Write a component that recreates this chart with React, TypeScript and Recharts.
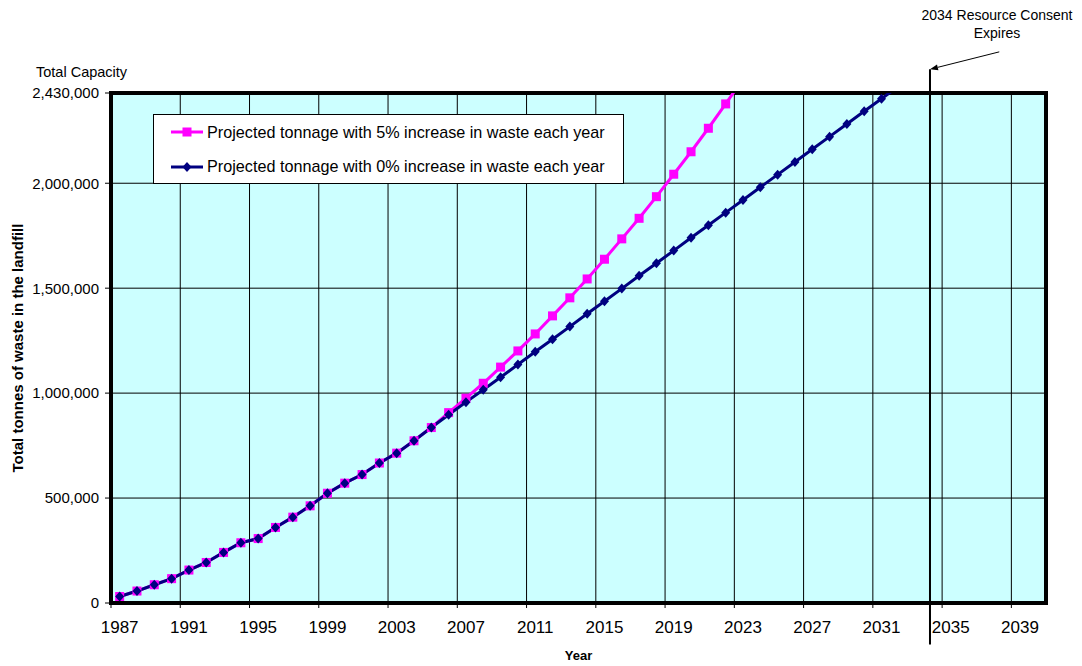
import React from "react";
import {
  LineChart,
  Line,
  XAxis,
  YAxis,
  CartesianGrid,
  Legend,
  ReferenceLine,
  ReferenceArea,
} from "recharts";

// years on the category axis
const YEARS = [
  1987, 1988, 1989, 1990, 1991, 1992, 1993, 1994, 1995, 1996, 1997, 1998,
  1999, 2000, 2001, 2002, 2003, 2004, 2005, 2006, 2007, 2008, 2009, 2010,
  2011, 2012, 2013, 2014, 2015, 2016, 2017, 2018, 2019, 2020, 2021, 2022,
  2023, 2024, 2025, 2026, 2027, 2028, 2029, 2030, 2031, 2032,
];

// cumulative tonnes, 5% growth in annual waste (1987-2023)
const GROWTH_5 = [
  31000, 57000, 87000, 116000, 157000, 193000, 241000, 287000, 307000,
  360000, 409000, 463000, 523000, 571000, 612000, 667000, 714000, 773000,
  836000, 907000, 976000, 1047000, 1124000, 1201000, 1282000, 1368000,
  1454000, 1544000, 1638000, 1735000, 1833000, 1936000, 2043000, 2150000,
  2262000, 2378000, 2497000,
];

// cumulative tonnes, no growth (1987-2032)
const GROWTH_0 = [
  31000, 57000, 87000, 116000, 157000, 193000, 241000, 287000, 307000,
  360000, 409000, 463000, 523000, 571000, 612000, 667000, 714000, 773000,
  836000, 897000, 957000, 1016000, 1076000, 1136000, 1197000, 1257000,
  1317000, 1378000, 1438000, 1498000, 1559000, 1619000, 1679000, 1740000,
  1800000, 1860000, 1920000, 1981000, 2041000, 2101000, 2162000, 2222000,
  2282000, 2343000, 2403000, 2463000,
];

const X_LABELS = [1987, 1991, 1995, 1999, 2003, 2007, 2011, 2015, 2019, 2023, 2027, 2031, 2035, 2039];
const X_BOUNDS = [1986.5, 1990.5, 1994.5, 1998.5, 2002.5, 2006.5, 2010.5, 2014.5, 2018.5, 2022.5, 2026.5, 2030.5, 2034.5, 2038.5];
const X_DOMAIN = [1986.5, 2040.5];
const CAPACITY = 2430000;
const Y_TICKS = [0, 500000, 1000000, 1500000, 2000000, CAPACITY];

// "2034 Resource Consent Expires" marker (data units)
const CONSENT_X = 2033.8;
const CONSENT_TOP = 2543000;
const CONSENT_BOTTOM = -198000;
const ARROW_TAIL = { x: 2037.8, y: 2626000 };

const SERIES = [
  { key: "g5", name: "Projected tonnage with 5% increase in waste each year", color: "#FF00FF", marker: "square" },
  { key: "g0", name: "Projected tonnage with 0% increase in waste each year", color: "#000080", marker: "diamond" },
];

const data = YEARS.map((year, i) => ({
  year,
  g5: i < GROWTH_5.length ? GROWTH_5[i] : null,
  g0: GROWTH_0[i],
}));

const FONT = "Arial, 'Liberation Sans', sans-serif";

function SquareDot(props: any) {
  const { cx, cy } = props;
  if (cx == null || cy == null) return <g />;
  return <rect x={cx - 4.5} y={cy - 4.5} width={9} height={9} fill="#FF00FF" />;
}

function DiamondDot(props: any) {
  const { cx, cy } = props;
  if (cx == null || cy == null) return <g />;
  return (
    <polygon
      points={`${cx},${cy - 5} ${cx + 4.5},${cy} ${cx},${cy + 5} ${cx - 4.5},${cy}`}
      fill="#000080"
    />
  );
}

function Arrow(props: any) {
  const { x1, y1, x2, y2 } = props;
  const dx = x2 - x1;
  const dy = y2 - y1;
  const len = Math.sqrt(dx * dx + dy * dy) || 1;
  const ux = dx / len;
  const uy = dy / len;
  const bx = x2 - ux * 8;
  const by = y2 - uy * 8;
  return (
    <g>
      <line x1={x1} y1={y1} x2={bx} y2={by} stroke="#000" strokeWidth={1} />
      <polygon
        points={`${x2},${y2} ${bx - uy * 3},${by + ux * 3} ${bx + uy * 3},${by - ux * 3}`}
        fill="#000"
      />
    </g>
  );
}

function LegendBox() {
  return (
    <div
      style={{
        background: "#fff",
        border: "1px solid #000",
        width: 469,
        height: 68,
        boxSizing: "content-box",
        fontFamily: FONT,
        fontSize: 16.2,
        color: "#000",
      }}
    >
      {SERIES.map((s) => (
        <div key={s.key} style={{ display: "flex", alignItems: "center", height: 34.5 }}>
          <svg width={34} height={12} style={{ marginLeft: 17, marginRight: 2 }}>
            <line x1={0} y1={6} x2={32} y2={6} stroke={s.color} strokeWidth={3} />
            {s.marker === "square" ? (
              <rect x={11.5} y={1.5} width={9} height={9} fill={s.color} />
            ) : (
              <polygon points="16,1 20.5,6 16,11 11.5,6" fill={s.color} />
            )}
          </svg>
          <span>{s.name}</span>
        </div>
      ))}
    </div>
  );
}

function BoundaryTick() {
  return <g />;
}

export default function App() {
  return (
    <div style={{ position: "absolute", left: 0, top: 0, width: 1082, height: 666, fontFamily: FONT, background: "#fff" }}>
      <LineChart
        width={1082}
        height={666}
        data={data}
        margin={{ top: 93, right: 36, left: 0, bottom: 0 }}
      >
        <CartesianGrid
          xAxisId="grid"
          stroke="#000"
          strokeWidth={1}
          fill="#CCFFFF"
          fillOpacity={1}
        />
        <XAxis
          xAxisId="grid"
          type="number"
          dataKey="year"
          domain={X_DOMAIN}
          ticks={X_BOUNDS}
          interval={0}
          tick={<BoundaryTick />}
          tickSize={5}
          tickLine={{ stroke: "#000" }}
          axisLine={false}
          height={1}
          allowDataOverflow
        />
        <XAxis
          xAxisId="year"
          type="number"
          dataKey="year"
          domain={X_DOMAIN}
          ticks={X_LABELS}
          interval={0}
          tickLine={false}
          axisLine={false}
          tickSize={8}
          tickMargin={9}
          height={62}
          allowDataOverflow
          tick={{ fontSize: 17, fill: "#000" }}
          label={{
            value: "Year",
            position: "insideBottom",
            offset: 6,
            style: { fontSize: 13, fontWeight: "bold", fill: "#000" },
          }}
        />
        <YAxis
          domain={[0, CAPACITY]}
          ticks={Y_TICKS}
          interval={0}
          allowDataOverflow
          width={111}
          tickSize={6}
          tickMargin={6}
          axisLine={false}
          tickLine={{ stroke: "#000" }}
          tick={{ fontSize: 15, fill: "#000" }}
          tickFormatter={(v: number) => v.toLocaleString("en-US")}
          label={{
            value: "Total tonnes of waste in the landfill",
            angle: -90,
            position: "insideLeft",
            offset: 18,
            style: { textAnchor: "middle", fontSize: 15, fontWeight: "bold", fill: "#000" },
          }}
        />
        <Legend
          layout="horizontal"
          verticalAlign="middle"
          align="center"
          wrapperStyle={{ left: 153, top: 114, width: "auto" }}
          content={() => <LegendBox />}
        />
        <Line
          xAxisId="year"
          dataKey="g5"
          name={SERIES[0].name}
          stroke="#FF00FF"
          strokeWidth={3}
          dot={<SquareDot />}
          activeDot={false}
          connectNulls={false}
          isAnimationActive={false}
        />
        <Line
          xAxisId="year"
          dataKey="g0"
          name={SERIES[1].name}
          stroke="#000080"
          strokeWidth={3}
          dot={<DiamondDot />}
          activeDot={false}
          isAnimationActive={false}
        />
        <ReferenceArea
          xAxisId="year"
          x1={X_DOMAIN[0]}
          x2={X_DOMAIN[1]}
          y1={0}
          y2={CAPACITY}
          fill="none"
          fillOpacity={0}
          stroke="#000"
          strokeWidth={4}
          ifOverflow="visible"
        />
        <ReferenceLine
          xAxisId="year"
          segment={[
            { x: CONSENT_X, y: CONSENT_TOP },
            { x: CONSENT_X, y: CONSENT_BOTTOM },
          ]}
          stroke="#000"
          strokeWidth={2}
          ifOverflow="visible"
        />
        <ReferenceLine
          xAxisId="year"
          segment={[ARROW_TAIL, { x: CONSENT_X, y: CONSENT_TOP }]}
          ifOverflow="visible"
          shape={Arrow}
        />
      </LineChart>
      <svg
        width={1082}
        height={100}
        style={{ position: "absolute", left: 0, top: 0, pointerEvents: "none" }}
      >
        <text x={36} y={77} fontSize={14.5} fill="#000" fontFamily={FONT}>
          Total Capacity
        </text>
        <text x={997} y={20} fontSize={14} fill="#000" textAnchor="middle" fontFamily={FONT}>
          2034 Resource Consent
        </text>
        <text x={997} y={38} fontSize={14} fill="#000" textAnchor="middle" fontFamily={FONT}>
          Expires
        </text>
      </svg>
    </div>
  );
}
